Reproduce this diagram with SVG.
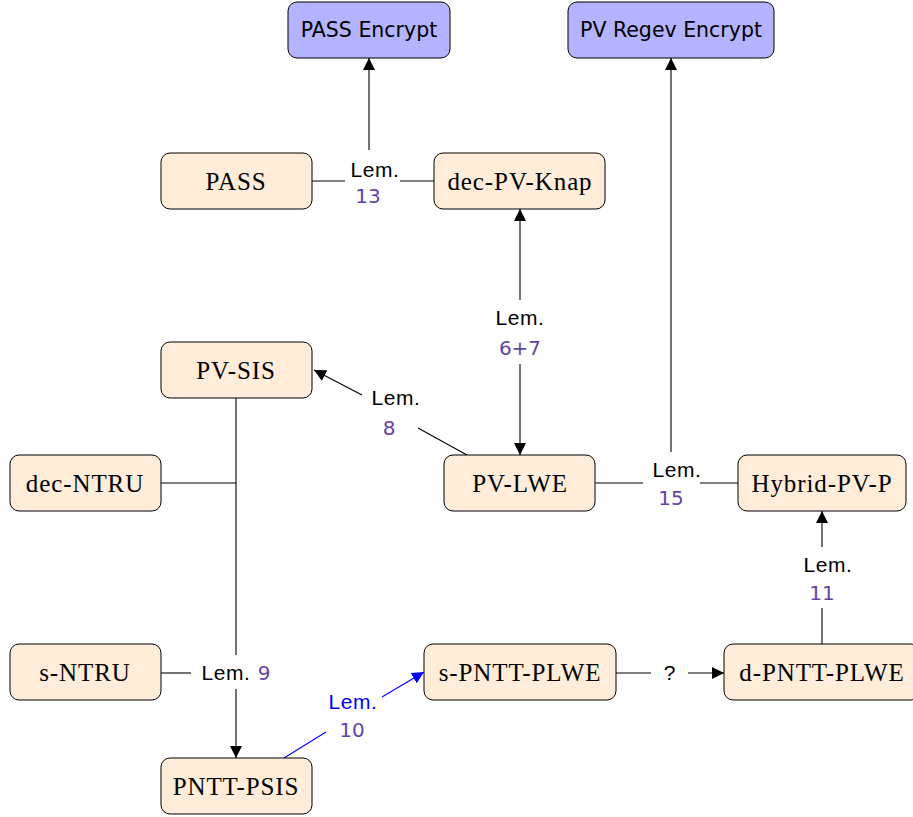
<svg xmlns="http://www.w3.org/2000/svg" width="913" height="817" viewBox="0 0 913 817">
<style>
  .node rect { stroke: #000; stroke-width: 1; }
  .scheme rect { fill: #b3b3ff; }
  .problem rect { fill: #ffecd9; }
  .scheme text { font-family: "DejaVu Sans", sans-serif; font-size: 20.5px; fill: #000; text-anchor: middle; }
  .problem text { font-family: "Liberation Serif", serif; font-size: 25px; letter-spacing: 0.9px; fill: #000; text-anchor: middle; }
  .edge { stroke: #000; stroke-width: 1.1; fill: none; }
  .blue { stroke: #0000ff; }
  .lem { font-family: "Liberation Sans", sans-serif; font-size: 21px; letter-spacing: 0.6px; fill: #000; text-anchor: middle; }
  .num { font-family: "DejaVu Sans", sans-serif; font-size: 20px; fill: #6443a8; text-anchor: middle; }
</style>
<defs>
  <marker id="ah" viewBox="0 0 12 12" markerWidth="12" markerHeight="13" refX="12" refY="6" orient="auto" markerUnits="userSpaceOnUse">
    <path d="M0,0 L12,6 L0,12 z" fill="#000"/>
  </marker>
  <marker id="ahb" viewBox="0 0 12 12" markerWidth="12" markerHeight="13" refX="12" refY="6" orient="auto" markerUnits="userSpaceOnUse">
    <path d="M0,0 L12,6 L0,12 z" fill="#0000ff"/>
  </marker>
</defs>

<g id="connectors">
  <!-- PASS + dec-PV-Knap to PASS Encrypt -->
  <line class="edge" x1="312" y1="181" x2="345" y2="181"/>
  <line class="edge" x1="400" y1="181" x2="434" y2="181"/>
  <line class="edge" x1="369" y1="150" x2="369" y2="58" marker-end="url(#ah)"/>
  <text class="lem" x="375" y="177">Lem.</text>
  <text class="num" x="368" y="203">13</text>

  <!-- dec-PV-Knap <-> PV-LWE -->
  <line class="edge" x1="520" y1="300" x2="520" y2="209" marker-end="url(#ah)"/>
  <line class="edge" x1="520" y1="364" x2="520" y2="455" marker-end="url(#ah)"/>
  <text class="lem" x="520" y="325">Lem.</text>
  <text class="num" x="520" y="355">6+7</text>

  <!-- PV-LWE to PV-SIS -->
  <line class="edge" x1="467" y1="455" x2="418" y2="428"/>
  <line class="edge" x1="362" y1="395" x2="314" y2="370" marker-end="url(#ah)"/>
  <text class="lem" x="396" y="405">Lem.</text>
  <text class="num" x="389" y="435">8</text>

  <!-- PV-LWE + Hybrid-PV-P to PV Regev Encrypt -->
  <line class="edge" x1="595" y1="483" x2="643" y2="483"/>
  <line class="edge" x1="700" y1="483" x2="738" y2="483"/>
  <line class="edge" x1="671" y1="452" x2="671" y2="58" marker-end="url(#ah)"/>
  <text class="lem" x="677" y="477">Lem.</text>
  <text class="num" x="671" y="505">15</text>

  <!-- d-PNTT-PLWE to Hybrid-PV-P -->
  <line class="edge" x1="822" y1="644" x2="822" y2="608"/>
  <line class="edge" x1="822" y1="547" x2="822" y2="511" marker-end="url(#ah)"/>
  <text class="lem" x="828" y="572">Lem.</text>
  <text class="num" x="822" y="600">11</text>

  <!-- s-PNTT-PLWE to d-PNTT-PLWE -->
  <line class="edge" x1="616" y1="673" x2="651" y2="673"/>
  <line class="edge" x1="688" y1="673" x2="724" y2="673" marker-end="url(#ah)"/>
  <text class="lem" x="670" y="680">?</text>

  <!-- PV-SIS, dec-NTRU, s-NTRU to PNTT-PSIS -->
  <line class="edge" x1="236" y1="398" x2="236" y2="655"/>
  <line class="edge" x1="161" y1="483" x2="236" y2="483"/>
  <line class="edge" x1="161" y1="673" x2="191" y2="673"/>
  <line class="edge" x1="236" y1="689" x2="236" y2="758" marker-end="url(#ah)"/>
  <text class="lem" x="226" y="680">Lem.</text>
  <text class="num" x="264" y="680">9</text>

  <!-- PNTT-PSIS to s-PNTT-PLWE -->
  <line class="edge blue" x1="284" y1="758" x2="326" y2="732"/>
  <line class="edge blue" x1="382" y1="697" x2="424" y2="672" marker-end="url(#ahb)"/>
  <text class="lem" x="353" y="709" style="fill:#0000ff">Lem.</text>
  <text class="num" x="352" y="737">10</text>
</g>

<g id="pass-encrypt" class="node scheme">
  <rect x="288" y="2" width="162" height="56" rx="9"/>
  <text x="369" y="37">PASS Encrypt</text>
</g>
<g id="pv-regev-encrypt" class="node scheme">
  <rect x="568" y="2" width="206" height="56" rx="9"/>
  <text x="671" y="37">PV Regev Encrypt</text>
</g>
<g id="pass" class="node problem">
  <rect x="161" y="153" width="151" height="56" rx="9"/>
  <text x="236" y="190">PASS</text>
</g>
<g id="dec-pv-knap" class="node problem">
  <rect x="434" y="153" width="171" height="56" rx="9"/>
  <text x="520" y="190">dec-PV-Knap</text>
</g>
<g id="pv-sis" class="node problem">
  <rect x="161" y="342" width="151" height="56" rx="9"/>
  <text x="236" y="379">PV-SIS</text>
</g>
<g id="dec-ntru" class="node problem">
  <rect x="10" y="455" width="151" height="56" rx="9"/>
  <text x="85" y="492">dec-NTRU</text>
</g>
<g id="pv-lwe" class="node problem">
  <rect x="444" y="455" width="151" height="56" rx="9"/>
  <text x="520" y="492">PV-LWE</text>
</g>
<g id="hybrid-pv-p" class="node problem">
  <rect x="738" y="455" width="168" height="56" rx="9"/>
  <text x="822" y="492">Hybrid-PV-P</text>
</g>
<g id="s-ntru" class="node problem">
  <rect x="10" y="644" width="151" height="56" rx="9"/>
  <text x="85" y="681">s-NTRU</text>
</g>
<g id="s-pntt-plwe" class="node problem">
  <rect x="424" y="644" width="192" height="56" rx="9"/>
  <text x="520" y="681">s-PNTT-PLWE</text>
</g>
<g id="d-pntt-plwe" class="node problem">
  <rect x="724" y="644" width="196" height="56" rx="9"/>
  <text x="822" y="681">d-PNTT-PLWE</text>
</g>
<g id="pntt-psis" class="node problem">
  <rect x="161" y="758" width="151" height="56" rx="9"/>
  <text x="236" y="795">PNTT-PSIS</text>
</g>
</svg>
